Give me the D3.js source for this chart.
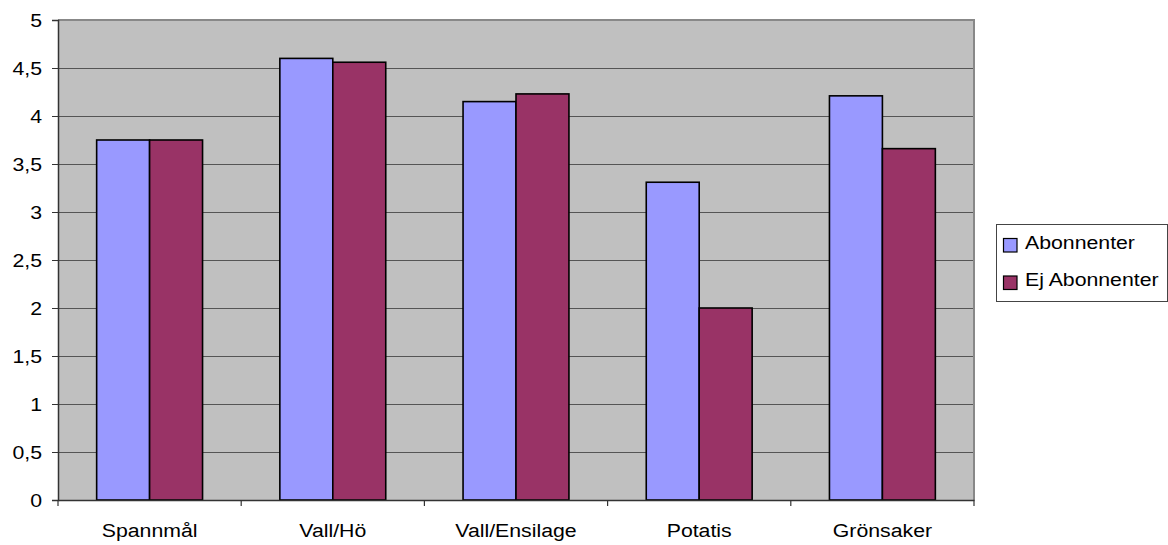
<!DOCTYPE html>
<html>
<head>
<meta charset="utf-8">
<script src="https://cdn.jsdelivr.net/npm/d3@7"></script>
<style>
  html, body { margin: 0; padding: 0; background: #fff; }
  svg { display: block; font-family: "Liberation Sans", Arial, sans-serif; }
</style>
</head>
<body>
<svg id="chart" width="1168" height="545"></svg>
<script>
// Grödor och medelbetyg per grupp
const categories = ["Spannmål", "Vall/Hö", "Vall/Ensilage", "Potatis", "Grönsaker"];
const seriesNames = ["Abonnenter", "Ej Abonnenter"];
const abonnenter = [3.75, 4.6, 4.15, 3.31, 4.21];
const ejAbonnenter = [3.75, 4.56, 4.23, 2.0, 3.66];
const yTicks = [0, 0.5, 1, 1.5, 2, 2.5, 3, 3.5, 4, 4.5, 5];
const colors = ["#9999ff", "#993366"];

const series = [abonnenter, ejAbonnenter];

const FONT = 19;
const STRETCH = 1.12;

const svg = d3.select("#chart");
const plot = { left: 58, top: 20, right: 974, bottom: 500 };

const x = d3.scaleBand().domain(categories).range([plot.left, plot.right]).paddingInner(0).paddingOuter(0);
const x1 = d3.scaleBand().domain(seriesNames).range([0, x.bandwidth()]).paddingInner(0).paddingOuter(0.73);
const y = d3.scaleLinear().domain([0, 5]).range([plot.bottom, plot.top]);

// Plot background
svg.append("rect")
  .attr("x", plot.left).attr("y", plot.top)
  .attr("width", plot.right - plot.left).attr("height", plot.bottom - plot.top)
  .attr("fill", "#c0c0c0");

// Horizontal gridlines
svg.append("g").selectAll("line")
  .data(yTicks.filter(d => d > 0 && d < 5))
  .join("line")
  .attr("x1", plot.left).attr("x2", plot.right)
  .attr("y1", d => Math.round(y(d)) + 0.5).attr("y2", d => Math.round(y(d)) + 0.5)
  .attr("stroke", "#555").attr("stroke-width", 1);

// Plot border (top and right)
svg.append("path")
  .attr("d", `M${plot.left},${plot.top} H${plot.right} V${plot.bottom}`)
  .attr("fill", "none").attr("stroke", "#888").attr("stroke-width", 2);

// Bars
const groups = svg.append("g").selectAll("g")
  .data(categories)
  .join("g")
  .attr("transform", d => `translate(${x(d)},0)`);

groups.selectAll("rect")
  .data((c, i) => seriesNames.map((s, j) => ({ s, v: series[j][i], j })))
  .join("rect")
  .attr("x", d => x1(d.s))
  .attr("y", d => y(d.v))
  .attr("width", x1.bandwidth())
  .attr("height", d => y(0) - y(d.v))
  .attr("fill", d => colors[d.j])
  .attr("stroke", "#000")
  .attr("stroke-width", 1.6);

// Y axis
const yAxis = d3.axisLeft(y)
  .tickValues(yTicks)
  .tickSize(6)
  .tickPadding(0)
  .tickFormat(d => String(d).replace(".", ","));
const gy = svg.append("g").attr("transform", `translate(${plot.left},0)`).call(yAxis);
gy.select(".domain").attr("stroke", "#333").attr("stroke-width", 1.5);
gy.selectAll(".tick line").attr("stroke", "#333");
gy.selectAll("text")
  .attr("font-size", FONT).attr("fill", "#000")
  .attr("font-family", "Liberation Sans, Arial, sans-serif")
  .attr("x", 0)
  .attr("transform", `translate(-16,0) scale(${STRETCH},1)`);

// X axis
const xAxis = d3.axisBottom(x).tickSize(0).tickPadding(23.5);
const gx = svg.append("g").attr("transform", `translate(0,${plot.bottom})`).call(xAxis);
gx.select(".domain").attr("stroke", "#333").attr("stroke-width", 1.5);
gx.selectAll("text")
  .attr("font-size", FONT).attr("fill", "#000")
  .attr("font-family", "Liberation Sans, Arial, sans-serif")
  .attr("transform", `scale(${STRETCH},1)`);

// Category separator ticks
const boundaries = categories.map(c => x(c)).concat([x(categories[categories.length - 1]) + x.bandwidth()]);
svg.append("g").selectAll("line")
  .data(boundaries)
  .join("line")
  .attr("x1", d => d).attr("x2", d => d)
  .attr("y1", plot.bottom).attr("y2", plot.bottom + 6)
  .attr("stroke", "#333").attr("stroke-width", 1.2);

// Legend
const legend = svg.append("g");
legend.append("rect")
  .attr("x", 996.5).attr("y", 224.5).attr("width", 171).attr("height", 77)
  .attr("fill", "#fff").attr("stroke", "#444").attr("stroke-width", 1);
const items = legend.selectAll("g.item")
  .data(seriesNames)
  .join("g")
  .attr("class", "item")
  .attr("transform", (d, i) => `translate(1003.5,${238.5 + i * 37.5})`);
items.append("rect")
  .attr("width", 13.5).attr("height", 13.5)
  .attr("fill", (d, i) => colors[i])
  .attr("stroke", "#000").attr("stroke-width", 1.2);
items.append("text")
  .attr("transform", `translate(21.5,10) scale(${STRETCH},1)`)
  .attr("font-size", FONT).attr("fill", "#000")
  .text(d => d);
</script>
</body>
</html>
